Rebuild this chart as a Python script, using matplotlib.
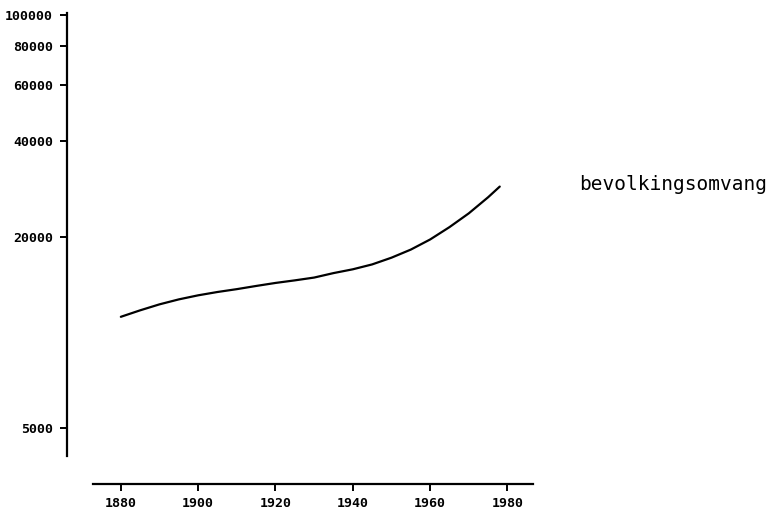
import matplotlib
matplotlib.use('Agg')
import matplotlib.pyplot as plt

# bevolkingsomvang (geschat uit de figuur)
jaren = [1880, 1885, 1890, 1895, 1900, 1905, 1910, 1915, 1920, 1925, 1930,
         1935, 1940, 1945, 1950, 1955, 1960, 1965, 1970, 1975, 1978]
inwoners = [11200, 11740, 12260, 12710, 13090, 13410, 13690, 14010, 14320, 14590, 14890,
            15380, 15810, 16380, 17200, 18240, 19630, 21470, 23730, 26670, 28810]

y_ticks = [5000, 20000, 40000, 60000, 80000, 100000]
y_labels = ['5000', '20000', '40000', '60000', '80000', '100000']
x_ticks = [1880, 1900, 1920, 1940, 1960, 1980]
x_labels = ['1880', '1900', '1920', '1940', '1960', '1980']

W, H = 771, 509
fig = plt.figure(figsize=(W / 100, H / 100), dpi=100)

# assenpositie in pixels
left, right, top, bottom = 93, 533, 13, 456
ax = fig.add_axes([left / W, 1 - bottom / H, (right - left) / W, (bottom - top) / H])

ax.plot(jaren, inwoners, color='black', linewidth=1.6, solid_capstyle='round')

ax.set_yscale('log')
ax.set_xlim(1872.8, 1986.6)
ax.set_ylim(4080, 101500)

ax.set_yticks(y_ticks)
ax.set_yticklabels(y_labels)
ax.yaxis.set_minor_locator(plt.NullLocator())
ax.set_xticks(x_ticks)
ax.set_xticklabels(x_labels)

for s in ['top', 'right']:
    ax.spines[s].set_visible(False)
ax.spines['left'].set_position(('outward', 26 * 0.72))
ax.spines['bottom'].set_position(('outward', 28 * 0.72))
ax.spines['left'].set_linewidth(1.6)
ax.spines['bottom'].set_linewidth(1.6)

ax.tick_params(axis='both', direction='out', length=5, width=1.4, colors='black')
ax.tick_params(axis='y', pad=5)
ax.tick_params(axis='x', pad=4)
for lbl in ax.get_xticklabels() + ax.get_yticklabels():
    lbl.set_family('DejaVu Sans Mono')
    lbl.set_fontweight('bold')
    lbl.set_fontsize(9.5)

fig.text(579 / W, 1 - 185 / H, 'bevolkingsomvang', family='DejaVu Sans Mono',
         fontsize=14, va='center', ha='left')

fig.savefig('out.png', dpi=100)
